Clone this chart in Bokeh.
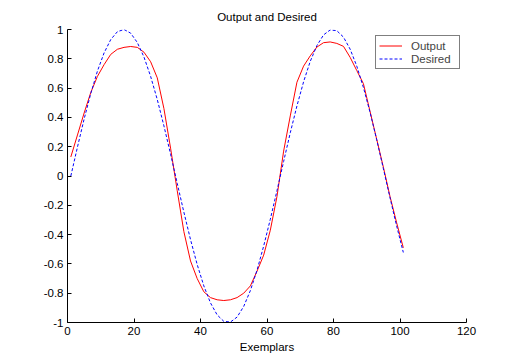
from bokeh.plotting import figure
from bokeh.models import Range1d, FixedTicker, Legend
from bokeh.embed import file_html
from bokeh.resources import INLINE

# ---- data ----
exemplars = list(range(1, 102, 2))
desired = [0.0, 0.198, 0.389, 0.563, 0.716, 0.840, 0.931, 0.985, 1.0, 0.975,
           0.911, 0.812, 0.680, 0.522, 0.342, 0.149, -0.050, -0.247, -0.434, -0.604,
           -0.750, -0.866, -0.948, -0.992, -0.997, -0.963, -0.890, -0.782, -0.643, -0.478,
           -0.295, -0.100, 0.099, 0.295, 0.478, 0.643, 0.782, 0.890, 0.963, 0.997,
           0.992, 0.948, 0.866, 0.750, 0.604, 0.434, 0.247, 0.050, -0.149, -0.342,
           -0.522]
output = [0.13, 0.28, 0.43, 0.57, 0.68, 0.76, 0.83, 0.865, 0.878, 0.884,
          0.878, 0.845, 0.78, 0.67, 0.46, 0.19, -0.10, -0.38, -0.58, -0.70,
          -0.79, -0.83, -0.845, -0.85, -0.845, -0.83, -0.80, -0.75, -0.65, -0.54,
          -0.37, -0.14, 0.17, 0.41, 0.64, 0.75, 0.82, 0.88, 0.91, 0.915,
          0.905, 0.885, 0.81, 0.72, 0.63, 0.44, 0.25, 0.06, -0.14, -0.32,
          -0.49]
x_ticks = [0, 20, 40, 60, 80, 100, 120]
y_ticks = [-1, -0.8, -0.6, -0.4, -0.2, 0, 0.2, 0.4, 0.6, 0.8, 1]
y_tick_labels = ["-1", "-0.8", "-0.6", "-0.4", "-0.2", "0", "0.2", "0.4", "0.6", "0.8", "1"]

FONT = "Liberation Sans"
FS = "11.5px"

p = figure(width=515, height=362, output_backend="svg", toolbar_location=None,
           x_range=Range1d(0, 120), y_range=Range1d(-1, 1),
           title="Output and Desired",
           min_border_left=67, min_border_right=49, min_border_top=29, min_border_bottom=40)
p.background_fill_color = "white"
p.border_fill_color = "white"
p.outline_line_color = None
p.grid.visible = False

p.title.align = "center"
p.title.text_font = FONT
p.title.text_font_size = FS
p.title.text_font_style = "normal"
p.title.text_color = "black"
p.title.standoff = 13

for ax in (p.xaxis[0], p.yaxis[0]):
    ax.axis_line_color = "black"
    ax.axis_line_width = 1
    ax.major_tick_in = 4
    ax.major_tick_out = 0
    ax.major_tick_line_color = "black"
    ax.minor_tick_line_color = None
    ax.major_label_text_font = FONT
    ax.major_label_text_font_size = FS
    ax.major_label_text_color = "black"
    ax.major_label_standoff = 4

p.xaxis.ticker = FixedTicker(ticks=x_ticks)
p.yaxis.ticker = FixedTicker(ticks=y_ticks)
p.yaxis.major_label_overrides = dict(zip(y_ticks, y_tick_labels))

p.xaxis.axis_label = "Exemplars"
p.xaxis.axis_label_text_font = FONT
p.xaxis.axis_label_text_font_size = FS
p.xaxis.axis_label_text_font_style = "normal"
p.xaxis.axis_label_text_color = "black"
p.xaxis.axis_label_standoff = 3

r_out = p.line(exemplars, output, line_color="#ff0000", line_width=1)
r_des = p.line(exemplars, desired, line_color="#0000ff", line_width=1, line_dash="3 2")

legend = Legend(items=[("Output", [r_out]), ("Desired", [r_des])],
                location="top_right", margin=6, padding=3, spacing=0,
                glyph_width=23, glyph_height=13, label_height=13, label_width=45,
                label_standoff=9,
                label_text_font=FONT, label_text_font_size=FS,
                border_line_color="black", border_line_width=1,
                background_fill_color="white", background_fill_alpha=1.0)
p.add_layout(legend)

open("out.html", "w").write(file_html(p, INLINE))
